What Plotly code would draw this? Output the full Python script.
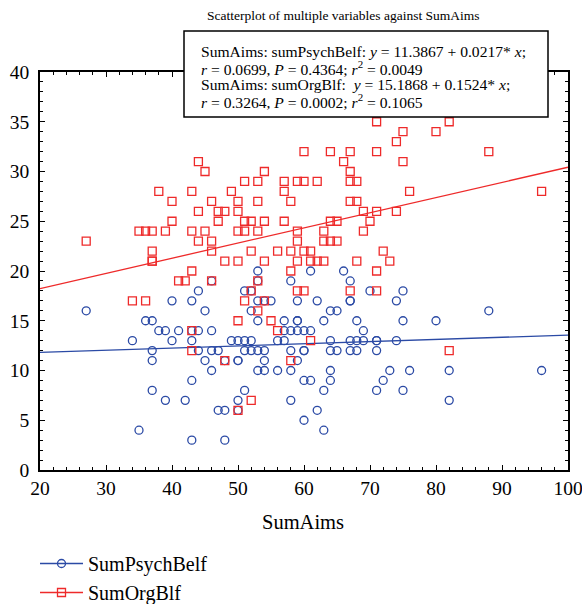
import numpy as np
import plotly.graph_objects as go

# ---- data ----
# SumPsychBelf (blue circles): y value -> list of SumAims x values
psych_rows = {
    20: [53, 61, 66],
    19: [46, 53, 58, 67],
    18: [44, 51, 52, 70, 75],
    17: [40, 43, 53, 54, 55, 59, 62, 67, 67, 74],
    16: [27, 45, 52, 64, 65, 88],
    15: [36, 37, 53, 57, 59, 59, 63, 68, 75, 80],
    14: [38, 39, 41, 43, 44, 46, 57, 58, 59, 60, 61, 69],
    13: [34, 40, 43, 49, 50, 51, 52, 56, 57, 64, 67, 68, 69, 71, 71, 74],
    12: [37, 44, 46, 47, 51, 52, 53, 54, 58, 60, 60, 64, 65, 67, 68, 71],
    11: [37, 45, 48, 50, 50, 54, 59],
    10: [46, 53, 54, 56, 58, 64, 73, 76, 82, 96],
    9: [43, 60, 61, 64, 72],
    8: [37, 51, 63, 71, 75],
    7: [39, 42, 50, 58, 82],
    6: [47, 48, 50, 62],
    5: [60],
    4: [35, 63],
    3: [43, 48],
}
# SumOrgBlf (red squares)
org_rows = {
    35: [71, 82],
    34: [75, 80],
    33: [74],
    32: [60, 64, 67, 71, 88],
    31: [44, 66, 75],
    30: [45, 54, 67],
    29: [51, 53, 57, 59, 60, 62, 67, 68],
    28: [38, 43, 49, 57, 76, 96],
    27: [40, 46, 50, 53, 58, 67, 68],
    26: [44, 47, 48, 50, 69, 71, 74],
    25: [40, 47, 51, 52, 54, 57, 64, 65, 70],
    24: [35, 36, 37, 39, 43, 45, 50, 51, 53, 59, 63, 69],
    23: [27, 44, 46, 59, 63, 64, 65],
    22: [37, 46, 52, 56, 58, 60, 61, 72],
    21: [37, 37, 48, 50, 54, 59, 61, 62, 63, 68, 73],
    20: [43, 58, 71],
    19: [41, 42, 46, 53],
    18: [52, 59, 60, 67, 71],
    17: [34, 36, 51, 54],
    16: [53],
    15: [50, 55],
    14: [43, 56],
    13: [61],
    12: [43, 82],
    11: [48, 58],
    7: [52],
    6: [50],
}

psych_x = [x for yv, xs in psych_rows.items() for x in xs]
psych_y = [yv for yv, xs in psych_rows.items() for x in xs]
org_x = [x for yv, xs in org_rows.items() for x in xs]
org_y = [yv for yv, xs in org_rows.items() for x in xs]

# regression coefficients printed on the chart
psych_a, psych_b = 11.3867, 0.0217
org_a, org_b = 15.1868, 0.1524

x_range = [20, 100]
y_range = [0, 40]

box_lines = [
    "SumAims: sumPsychBelf: <i>y</i> = 11.3867 + 0.0217* <i>x</i>;",
    "<i>r</i> = 0.0699, <i>P</i> = 0.4364; <i>r</i><sup>2</sup> = 0.0049",
    "SumAims: sumOrgBlf:  <i>y</i> = 15.1868 + 0.1524* <i>x</i>;",
    "<i>r</i> = 0.3264, <i>P</i> = 0.0002; <i>r</i><sup>2</sup> = 0.1065",
]

BLUE = "#2b4aa5"
RED = "#ee2a2a"
FONT = "Liberation Serif"

fit_x = np.array(x_range, dtype=float)

fig = go.Figure()
fig.add_trace(go.Scatter(
    x=fit_x, y=psych_a + psych_b * fit_x, mode="lines",
    line=dict(color=BLUE, width=1.3), showlegend=False, hoverinfo="skip"))
fig.add_trace(go.Scatter(
    x=fit_x, y=org_a + org_b * fit_x, mode="lines",
    line=dict(color=RED, width=1.3), showlegend=False, hoverinfo="skip"))
fig.add_trace(go.Scatter(
    x=psych_x, y=psych_y, mode="markers", showlegend=False,
    marker=dict(symbol="circle-open", size=8, color=BLUE, line=dict(width=1.3))))
fig.add_trace(go.Scatter(
    x=org_x, y=org_y, mode="markers", showlegend=False,
    marker=dict(symbol="square-open", size=8, color=RED, line=dict(width=1.3))))
# legend entries
fig.add_trace(go.Scatter(
    x=[None], y=[None], mode="lines+markers", name="SumPsychBelf",
    line=dict(color=BLUE, width=1.3),
    marker=dict(symbol="circle-open", size=8, color=BLUE, line=dict(width=1.3))))
fig.add_trace(go.Scatter(
    x=[None], y=[None], mode="lines+markers", name="SumOrgBlf",
    line=dict(color=RED, width=1.3),
    marker=dict(symbol="square-open", size=8, color=RED, line=dict(width=1.3))))

axis_common = dict(
    showline=True, linecolor="black", linewidth=1.5, mirror="allticks",
    ticks="inside", ticklen=5, tickcolor="black", tickwidth=1,
    showgrid=False, zeroline=False, ticklabeloverflow="allow",
    tickfont=dict(family=FONT, size=19.5, color="black"),
)
fig.update_xaxes(range=x_range, dtick=10, tick0=20,
                 minor=dict(ticks="inside", dtick=2, ticklen=3, tickcolor="black"),
                 **axis_common)
fig.update_yaxes(range=y_range, dtick=5, tick0=0, ticklabelstandoff=5,
                 minor=dict(ticks="inside", dtick=1, ticklen=3, tickcolor="black"),
                 **axis_common)

W, H = 582, 604
L, R, T, B = 40, 14, 72, 134
pw, ph = W - L - R, H - T - B

def px_x(p):
    return (p - L) / pw

def px_y(p):
    return (H - B - p) / ph

fig.add_shape(type="rect", xref="paper", yref="paper",
              x0=px_x(184), x1=px_x(548), y0=px_y(117), y1=px_y(31),
              line=dict(color="black", width=1.5), fillcolor="white", layer="above")
line_centers = [51, 68, 84.5, 101]
for txt, cy in zip(box_lines, line_centers):
    fig.add_annotation(xref="paper", yref="paper", x=px_x(199), y=px_y(cy),
                       xanchor="left", yanchor="middle", align="left", showarrow=False,
                       text=txt, font=dict(family=FONT, size=15.6, color="black"))
fig.add_annotation(xref="paper", yref="paper", x=px_x(303), y=px_y(522),
                   xanchor="center", yanchor="middle", showarrow=False,
                   text="SumAims", font=dict(family=FONT, size=20.5, color="black"))

fig.update_layout(
    width=W, height=H,
    margin=dict(l=L, r=R, t=T, b=B, autoexpand=False),
    paper_bgcolor="white", plot_bgcolor="white",
    font=dict(family=FONT, color="black"),
    title=dict(text="Scatterplot of multiple variables against SumAims",
               x=207 / W, xanchor="left", y=1 - 15 / H, yanchor="middle",
               font=dict(family=FONT, size=13.5, color="black")),
    legend=dict(x=px_x(35), y=px_y(544), xanchor="left", yanchor="top",
                font=dict(family=FONT, size=20, color="black"),
                itemwidth=43, bgcolor="rgba(0,0,0,0)", tracegroupgap=0),
    showlegend=True,
)

fig.write_html("out.html", config={"displayModeBar": False},
               post_script="document.body.style.margin='0';document.body.style.padding='0';")
